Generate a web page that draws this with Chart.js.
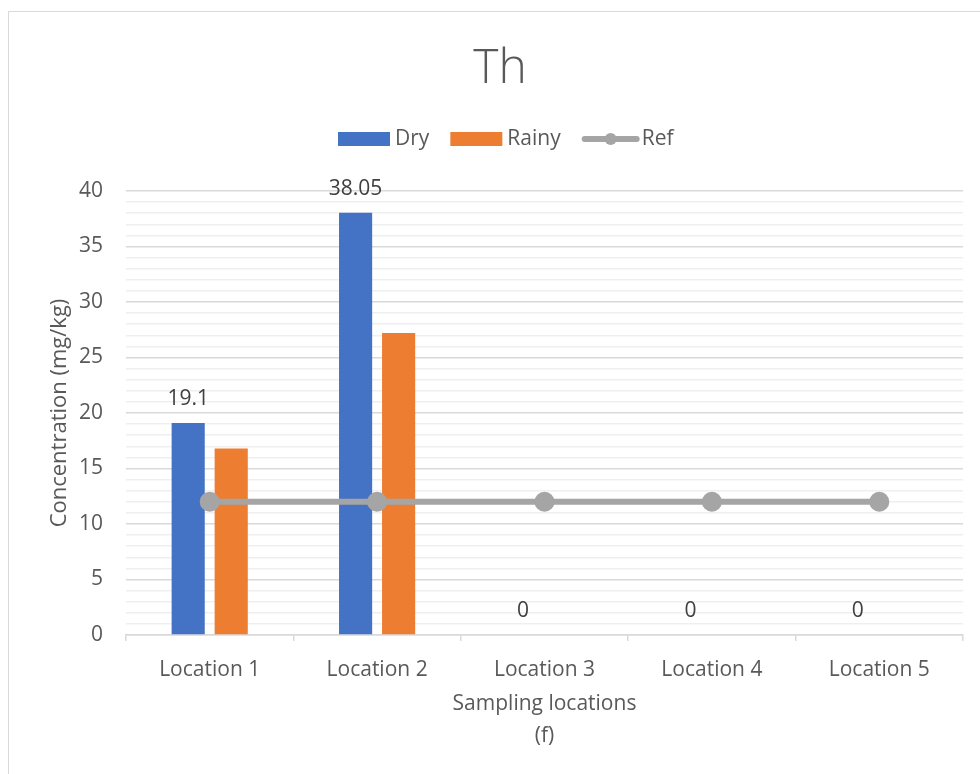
<!DOCTYPE html>
<html>
<head>
<meta charset="utf-8">
<script src="https://cdn.jsdelivr.net/npm/chart.js@4/dist/chart.umd.min.js"></script>
<style>
  html, body { margin: 0; padding: 0; background: #fff; }
  #wrap { position: relative; width: 980px; height: 774px; overflow: hidden; }
  #frame { position: absolute; left: 8px; top: 11px; width: 1000px; height: 800px; border: 1.5px solid #d9d9d9; box-sizing: border-box; }
  canvas { position: absolute; left: 0; top: 0; }
</style>
</head>
<body>
<div id="wrap">
  <div id="frame"></div>
  <canvas id="c" width="980" height="774"></canvas>
</div>
<script>
const chartTitle = "Th";
const categories = ["Location 1", "Location 2", "Location 3", "Location 4", "Location 5"];
const dryValues = [19.1, 38.05, 0, 0, 0];
const rainyValues = [16.8, 27.2, null, null, null];
const refValues = [12, 12, 12, 12, 12];
const seriesNames = ["Dry", "Rainy", "Ref"];
const yTitle = "Concentration (mg/kg)";
const xTitle = ["Sampling locations", "(f)"];
const yMin = 0, yMax = 40, yMajor = 5, yMinor = 1;

const FONT = "'Open Sans', 'Noto Sans', 'DejaVu Sans', sans-serif";
const TXT = "#595959";
const FS = 21;
const colors = { dry: "#4472c4", rainy: "#ed7d31", ref: "#a5a5a5" };

const titleLegendPlugin = {
  id: 'titleLegend',
  afterDraw(chart) {
    const ctx = chart.ctx;
    ctx.save();
    ctx.fillStyle = TXT;
    ctx.font = "300 48px " + FONT;
    ctx.textAlign = "center";
    ctx.textBaseline = "alphabetic";
    ctx.fillText(chartTitle, 500, 83);
    ctx.font = FS + "px " + FONT;
    ctx.textBaseline = "middle";
    ctx.textAlign = "left";
    const ly = 139;
    let x = 338;
    const items = [
      { name: seriesNames[0], kind: 'box', color: colors.dry },
      { name: seriesNames[1], kind: 'box', color: colors.rainy },
      { name: seriesNames[2], kind: 'line', color: colors.ref }
    ];
    items.forEach((it) => {
      if (it.kind === 'box') {
        ctx.fillStyle = it.color;
        ctx.fillRect(x, ly - 7, 52, 14);
        x += 52 + 5;
      } else {
        ctx.strokeStyle = it.color;
        ctx.lineWidth = 6;
        ctx.lineCap = 'round';
        ctx.beginPath();
        ctx.moveTo(x + 3, ly);
        ctx.lineTo(x + 55, ly);
        ctx.stroke();
        ctx.fillStyle = it.color;
        ctx.beginPath();
        ctx.arc(x + 29, ly, 6, 0, Math.PI * 2);
        ctx.fill();
        x += 58 + 2;
      }
      ctx.fillStyle = TXT;
      ctx.fillText(it.name, x, ly);
      x += ctx.measureText(it.name).width + 21;
    });
    ctx.restore();
  }
};

const dataLabelPlugin = {
  id: 'dataLabels',
  afterDatasetsDraw(chart) {
    const ctx = chart.ctx;
    const idx = chart.data.datasets.findIndex(d => d.label === seriesNames[0]);
    const meta = chart.getDatasetMeta(idx);
    ctx.save();
    ctx.fillStyle = "#404040";
    ctx.font = FS + "px " + FONT;
    ctx.textAlign = "center";
    ctx.textBaseline = "middle";
    meta.data.forEach((el, i) => {
      const v = dryValues[i];
      if (v === null || v === undefined) return;
      ctx.fillText(String(v), el.x, el.y - 24);
    });
    ctx.restore();
  }
};

new Chart(document.getElementById('c'), {
  data: {
    labels: categories,
    datasets: [
      { type: 'line', label: seriesNames[2], data: refValues, borderColor: colors.ref, backgroundColor: colors.ref,
        borderWidth: 6, pointRadius: 10, pointHoverRadius: 10, pointBackgroundColor: colors.ref, pointBorderWidth: 0, order: 0 },
      { type: 'bar', label: seriesNames[0], data: dryValues, backgroundColor: colors.dry, order: 1,
        categoryPercentage: 0.514, barPercentage: 0.77 },
      { type: 'bar', label: seriesNames[1], data: rainyValues, backgroundColor: colors.rainy, order: 1,
        categoryPercentage: 0.514, barPercentage: 0.77 }
    ]
  },
  options: {
    responsive: false,
    animation: false,
    devicePixelRatio: 1,
    layout: { padding: { left: 0, right: 17, top: 191, bottom: 0 } },
    plugins: { legend: { display: false }, title: { display: false }, tooltip: { enabled: false } },
    scales: {
      x: {
        grid: { display: true, drawOnChartArea: false, drawTicks: true, tickLength: 6, color: '#d9d9d9', lineWidth: 1.5, offset: true },
        border: { display: true, color: '#d9d9d9', width: 1.5 },
        ticks: { color: TXT, font: { family: FONT, size: FS }, padding: 16, maxRotation: 0 },
        title: { display: true, text: xTitle, color: TXT, font: { family: FONT, size: FS, lineHeight: '32px' }, padding: { top: 0, bottom: 22 } },
        afterFit(scale) { scale.height = 139; }
      },
      y: {
        min: yMin, max: yMax,
        grid: {
          drawTicks: false,
          color: (c) => (c.tick && c.tick.value % yMajor === 0) ? '#d9d9d9' : '#efefef',
          lineWidth: 1.5
        },
        border: { display: false },
        ticks: {
          stepSize: yMinor, autoSkip: false, color: TXT, font: { family: FONT, size: FS }, padding: 23,
          callback: (v) => (v % yMajor === 0 ? String(v) : '')
        },
        title: { display: true, text: yTitle, color: TXT, font: { family: FONT, size: 22 }, padding: { top: 47, bottom: 0 } },
        afterFit(scale) { scale.width = 126; }
      }
    }
  },
  plugins: [titleLegendPlugin, dataLabelPlugin]
});
</script>
</body>
</html>
